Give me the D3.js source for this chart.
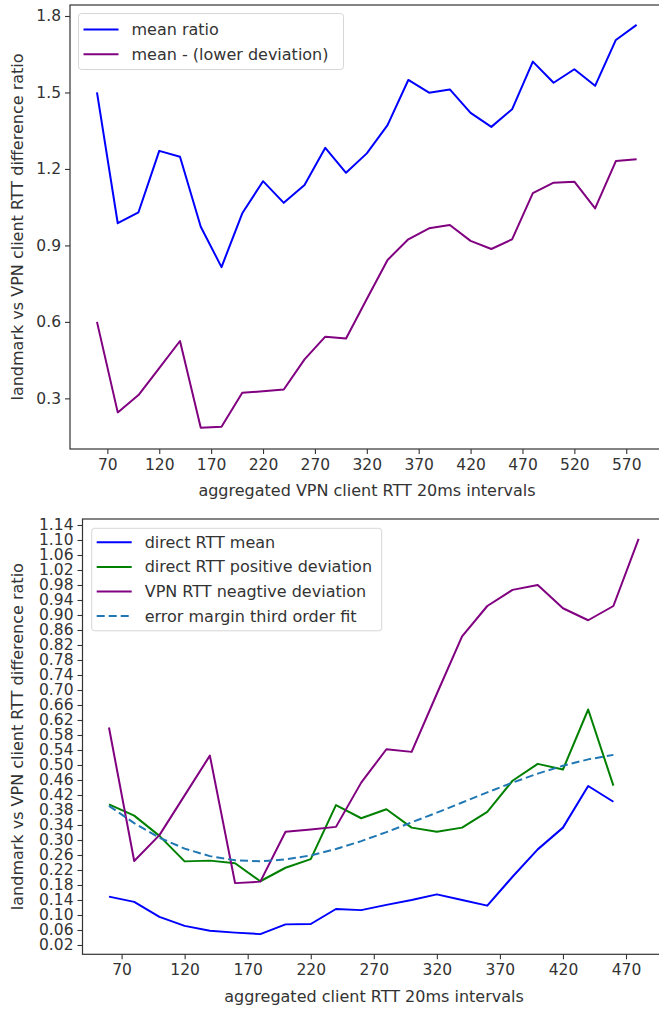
<!DOCTYPE html>
<html>
<head>
<meta charset="utf-8">
<script src="https://cdn.jsdelivr.net/npm/d3@7"></script>
<style>
  html, body { margin: 0; padding: 0; background: #fff; }
  svg { display: block; font-family: "DejaVu Sans", sans-serif; }
  .tick text { fill: #333; }
</style>
</head>
<body>
<svg id="chart" width="659" height="1009"></svg>
<script>
// ---- Upper panel: ratio per 20 ms VPN client RTT bucket ----
const vpnRttBuckets = [60, 80, 100, 120, 140, 160, 180, 200, 220, 240, 260, 280, 300, 320,
  340, 360, 380, 400, 420, 440, 460, 480, 500, 520, 540, 560, 580];
const meanRatio = [1.500, 0.987, 1.030, 1.271, 1.248, 0.973, 0.815, 1.026, 1.152, 1.067,
  1.137, 1.283, 1.185, 1.261, 1.372, 1.549, 1.499, 1.512, 1.420, 1.365, 1.434, 1.621,
  1.538, 1.591, 1.526, 1.706, 1.765];
const meanMinusLowerDev = [0.600, 0.245, 0.313, 0.419, 0.525, 0.185, 0.189, 0.322, 0.328,
  0.335, 0.453, 0.542, 0.535, 0.690, 0.843, 0.924, 0.967, 0.980, 0.918, 0.886, 0.924,
  1.105, 1.146, 1.150, 1.045, 1.231, 1.238];
const topXTicks = [70, 120, 170, 220, 270, 320, 370, 420, 470, 520, 570];
const topYTicks = [0.3, 0.6, 0.9, 1.2, 1.5, 1.8];

// ---- Lower panel: direct RTT vs VPN deviation per 20 ms client RTT bucket ----
const clientRttBuckets = [60, 80, 100, 120, 140, 160, 180, 200, 220, 240, 260, 280, 300,
  320, 340, 360, 380, 400, 420, 440, 460];
const vpnNegBuckets = [60, 80, 100, 120, 140, 160, 180, 200, 220, 240, 260, 280, 300,
  320, 340, 360, 380, 400, 420, 440, 460, 480];
const directMean = [0.149, 0.135, 0.095, 0.071, 0.058, 0.053, 0.049, 0.075, 0.076, 0.116,
  0.113, 0.127, 0.140, 0.155, 0.140, 0.125, 0.202, 0.275, 0.333, 0.444, 0.402];
const directPosDev = [0.395, 0.365, 0.311, 0.243, 0.245, 0.238, 0.190, 0.226, 0.249, 0.393,
  0.358, 0.382, 0.333, 0.322, 0.333, 0.375, 0.458, 0.503, 0.488, 0.648, 0.445];
const vpnNegDev = [0.600, 0.244, 0.313, 0.419, 0.525, 0.185, 0.189, 0.322, 0.328, 0.335,
  0.453, 0.542, 0.535, 0.690, 0.843, 0.924, 0.967, 0.980, 0.918, 0.886, 0.924, 1.103];
const marginFit = [0.391, 0.345, 0.306, 0.277, 0.257, 0.246, 0.243, 0.248, 0.259, 0.276,
  0.297, 0.321, 0.347, 0.373, 0.400, 0.427, 0.453, 0.477, 0.498, 0.515, 0.527];
const bottomXTicks = [70, 120, 170, 220, 270, 320, 370, 420, 470];
const bottomYTicks = [0.02, 0.06, 0.10, 0.14, 0.18, 0.22, 0.26, 0.30, 0.34, 0.38, 0.42,
  0.46, 0.50, 0.54, 0.58, 0.62, 0.66, 0.70, 0.74, 0.78, 0.82, 0.86, 0.90, 0.94, 0.98,
  1.02, 1.06, 1.10, 1.14];

const svg = d3.select("#chart");
const TICK_FONT = "15.5px";
const LABEL_FONT = "16px";
const INK = "#333";

function drawPanel(cfg) {
  const g = svg.append("g");
  const x = d3.scaleLinear().domain(cfg.xDomain).range([cfg.left, cfg.right]);
  const y = d3.scaleLinear().domain(cfg.yDomain).range([cfg.bottom, cfg.top]);

  // axes frame
  g.append("rect")
    .attr("x", cfg.left).attr("y", cfg.top)
    .attr("width", cfg.right - cfg.left).attr("height", cfg.bottom - cfg.top)
    .attr("fill", "none").attr("stroke", INK).attr("stroke-width", 1.2);

  const xAxis = g.append("g")
    .attr("transform", `translate(0,${cfg.bottom})`)
    .call(d3.axisBottom(x).tickValues(cfg.xTicks).tickSize(5).tickPadding(5)
      .tickFormat(d3.format("d")));
  const yAxis = g.append("g")
    .attr("transform", `translate(${cfg.left},0)`)
    .call(d3.axisLeft(y).tickValues(cfg.yTicks).tickSize(5).tickPadding(4)
      .tickFormat(d3.format(cfg.yFormat)));
  [xAxis, yAxis].forEach(a => {
    a.select(".domain").remove();
    a.selectAll(".tick line").attr("stroke", INK).attr("stroke-width", 1.1);
    a.selectAll(".tick text").attr("font-size", TICK_FONT)
      .attr("font-family", "DejaVu Sans");
  });

  g.append("text")
    .attr("x", cfg.xLabelX).attr("y", cfg.xLabelY)
    .attr("text-anchor", "middle").attr("font-size", LABEL_FONT).attr("fill", INK)
    .text(cfg.xLabel);
  g.append("text")
    .attr("transform", `translate(${cfg.yLabelX},${(cfg.top + cfg.bottom) / 2}) rotate(-90)`)
    .attr("text-anchor", "middle").attr("font-size", LABEL_FONT).attr("fill", INK)
    .text(cfg.yLabel);

  const line = d3.line().x(d => x(d[0])).y(d => y(d[1]));
  cfg.series.forEach(s => {
    g.append("path")
      .datum(d3.zip(s.xs, s.ys))
      .attr("d", line)
      .attr("fill", "none")
      .attr("stroke", s.color)
      .attr("stroke-width", 2)
      .attr("stroke-linejoin", "round")
      .attr("stroke-dasharray", s.dash || null);
  });

  // legend
  const lg = g.append("g").attr("transform", `translate(${cfg.legend.x},${cfg.legend.y})`);
  lg.append("rect")
    .attr("width", cfg.legend.w).attr("height", cfg.legend.h)
    .attr("rx", 3).attr("ry", 3)
    .attr("fill", "rgba(255,255,255,0.85)").attr("stroke", "#d6d6d6").attr("stroke-width", 1);
  cfg.series.forEach((s, i) => {
    const ry = cfg.legend.firstRow + i * cfg.legend.rowGap;
    lg.append("line")
      .attr("x1", 5).attr("x2", 40).attr("y1", ry).attr("y2", ry)
      .attr("stroke", s.color).attr("stroke-width", 2)
      .attr("stroke-dasharray", s.dash || null);
    lg.append("text")
      .attr("x", 53).attr("y", ry).attr("dy", "0.35em")
      .attr("font-size", LABEL_FONT).attr("fill", INK)
      .text(s.name);
  });
}

drawPanel({
  left: 70, right: 663.6, top: 5, bottom: 449,
  xDomain: [34, 606], yDomain: [0.1014, 1.8431],
  xTicks: topXTicks, yTicks: topYTicks, yFormat: ".1f",
  xLabel: "aggregated VPN client RTT 20ms intervals",
  yLabel: "landmark vs VPN client RTT difference ratio",
  xLabelX: 367, xLabelY: 496, yLabelX: 23,
  legend: { x: 78.5, y: 13.5, w: 265, h: 56, firstRow: 16, rowGap: 24.7 },
  series: [
    { name: "mean ratio", xs: vpnRttBuckets, ys: meanRatio, color: "#0000ff" },
    { name: "mean - (lower deviation)", xs: vpnRttBuckets, ys: meanMinusLowerDev, color: "#800080" }
  ]
});

drawPanel({
  left: 82.5, right: 665.1, top: 519, bottom: 954.3,
  xDomain: [39, 501], yDomain: [-0.0048, 1.156],
  xTicks: bottomXTicks, yTicks: bottomYTicks, yFormat: ".2f",
  xLabel: "aggregated client RTT 20ms intervals",
  yLabel: "landmark vs VPN client RTT difference ratio",
  xLabelX: 374, xLabelY: 1002, yLabelX: 23,
  legend: { x: 91.7, y: 528.3, w: 290, h: 102.5, firstRow: 14, rowGap: 24.6 },
  series: [
    { name: "direct RTT mean", xs: clientRttBuckets, ys: directMean, color: "#0000ff" },
    { name: "direct RTT positive deviation", xs: clientRttBuckets, ys: directPosDev, color: "#008000" },
    { name: "VPN RTT neagtive deviation", xs: vpnNegBuckets, ys: vpnNegDev, color: "#800080" },
    { name: "error margin third order fit", xs: clientRttBuckets, ys: marginFit, color: "#1f77b4", dash: "8,4" }
  ]
});
</script>
</body>
</html>
